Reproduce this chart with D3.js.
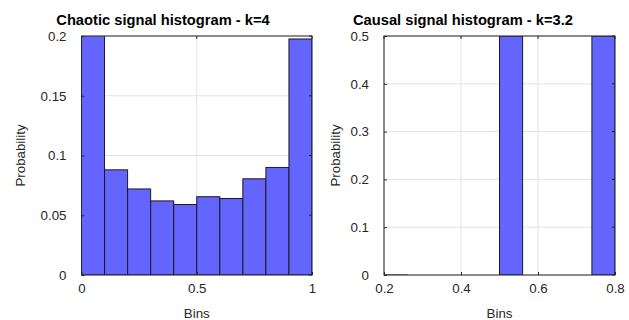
<!DOCTYPE html>
<html><head><meta charset="utf-8">
<script src="https://cdn.jsdelivr.net/npm/d3@7"></script>
<style>body{margin:0;background:#fff}svg{display:block}text{font-family:"Liberation Sans",Arial,sans-serif}</style>
</head><body><svg id="c" width="629" height="320"></svg>
<script>
const chaoticEdges = [0,0.1,0.2,0.3,0.4,0.5,0.6,0.7,0.8,0.9,1.0];
const chaoticValues = [0.21,0.088,0.072,0.062,0.059,0.0655,0.064,0.0805,0.09,0.1975];
const chaoticYTicks = [0,0.05,0.1,0.15,0.2];
const chaoticXTicks = [0,0.5,1];
const causalEdges = [0.2,0.26,0.32,0.38,0.44,0.5,0.56,0.62,0.68,0.74,0.8];
const causalValues = [0.001,0,0,0,0,0.5,0,0,0,0.5];
const causalYTicks = [0,0.1,0.2,0.3,0.4,0.5];
const causalXTicks = [0.2,0.4,0.6,0.8];

const svg = d3.select("#c");
function panel(o){
  const g = svg.append("g");
  const x = d3.scaleLinear().domain(o.xd).range([o.x0,o.x1]);
  const y = d3.scaleLinear().domain(o.yd).range([o.y1,o.y0]);
  g.selectAll(".gx").data(o.xt).join("line").attr("x1",d=>x(d)).attr("x2",d=>x(d)).attr("y1",o.y0).attr("y2",o.y1).attr("stroke","#e3e3e3").attr("stroke-width",1);
  g.selectAll(".gy").data(o.yt).join("line").attr("y1",d=>y(d)).attr("y2",d=>y(d)).attr("x1",o.x0).attr("x2",o.x1).attr("stroke","#e3e3e3").attr("stroke-width",1);
  const bins = o.vals.map((v,i)=>({a:o.edges[i],b:o.edges[i+1],v}));
  const clip = "clip"+o.id;
  g.append("clipPath").attr("id",clip).append("rect").attr("x",o.x0).attr("y",o.y0).attr("width",o.x1-o.x0).attr("height",o.y1-o.y0);
  g.append("g").attr("clip-path",`url(#${clip})`).selectAll("rect").data(bins.filter(d=>d.v>0)).join("rect")
    .attr("x",d=>x(d.a)).attr("width",d=>x(d.b)-x(d.a))
    .attr("y",d=>y(Math.min(d.v,o.yd[1]*1.01))).attr("height",d=>y(0)-y(Math.min(d.v,o.yd[1]*1.01)))
    .attr("fill","#6464ff").attr("stroke","#1a1a1a").attr("stroke-width",1).attr("stroke-opacity",d=>d.v<0.01?0.3:1);
  g.append("rect").attr("x",o.x0).attr("y",o.y0).attr("width",o.x1-o.x0).attr("height",o.y1-o.y0).attr("fill","none").attr("stroke","#262626").attr("stroke-width",1);
  const ax = g.append("g").attr("transform",`translate(0,${o.y1})`).call(d3.axisBottom(x).tickValues(o.xt).tickFormat(d3.format("")).tickSizeInner(-3).tickSizeOuter(0).tickPadding(9));
  const ay = g.append("g").attr("transform",`translate(${o.x0},0)`).call(d3.axisLeft(y).tickValues(o.yt).tickFormat(d3.format("")).tickSizeInner(-3).tickSizeOuter(0).tickPadding(15));
  [ax,ay].forEach(a=>{a.select(".domain").remove();a.selectAll("line").attr("stroke","#262626");a.selectAll("text").attr("fill","#262626").style("font-size","13.3px").attr("font-family","Liberation Sans, Arial, sans-serif");});
  g.selectAll(".rt").data(o.yt).join("line").attr("x1",o.x1).attr("x2",o.x1-3).attr("y1",d=>y(d)).attr("y2",d=>y(d)).attr("stroke","#262626");
  g.selectAll(".tt").data(o.xt).join("line").attr("y1",o.y0).attr("y2",o.y0+3).attr("x1",d=>x(d)).attr("x2",d=>x(d)).attr("stroke","#262626");
  g.append("text").attr("x",o.tx).attr("y",25).attr("text-anchor","middle").style("font-size","14.7px").style("font-weight","bold").attr("fill","#000").text(o.title);
  g.append("text").attr("x",(o.x0+o.x1)/2).attr("y",318).attr("text-anchor","middle").style("font-size","13.3px").attr("fill","#262626").text("Bins");
  g.append("text").attr("transform",`translate(${o.lx},${(o.y0+o.y1)/2}) rotate(-90)`).attr("text-anchor","middle").style("font-size","13.3px").attr("fill","#262626").text("Probability");
}
panel({id:1,x0:81.5,x1:312,y0:36,y1:275,xd:[0,1],yd:[0,0.2],xt:chaoticXTicks,yt:chaoticYTicks,edges:chaoticEdges,vals:chaoticValues,title:"Chaotic signal histogram - k=4",tx:163,lx:25});
panel({id:2,x0:384,x1:615,y0:36,y1:275,xd:[0.2,0.8],yd:[0,0.5],xt:causalXTicks,yt:causalYTicks,edges:causalEdges,vals:causalValues,title:"Causal signal histogram - k=3.2",tx:463,lx:340});
</script></body></html>
